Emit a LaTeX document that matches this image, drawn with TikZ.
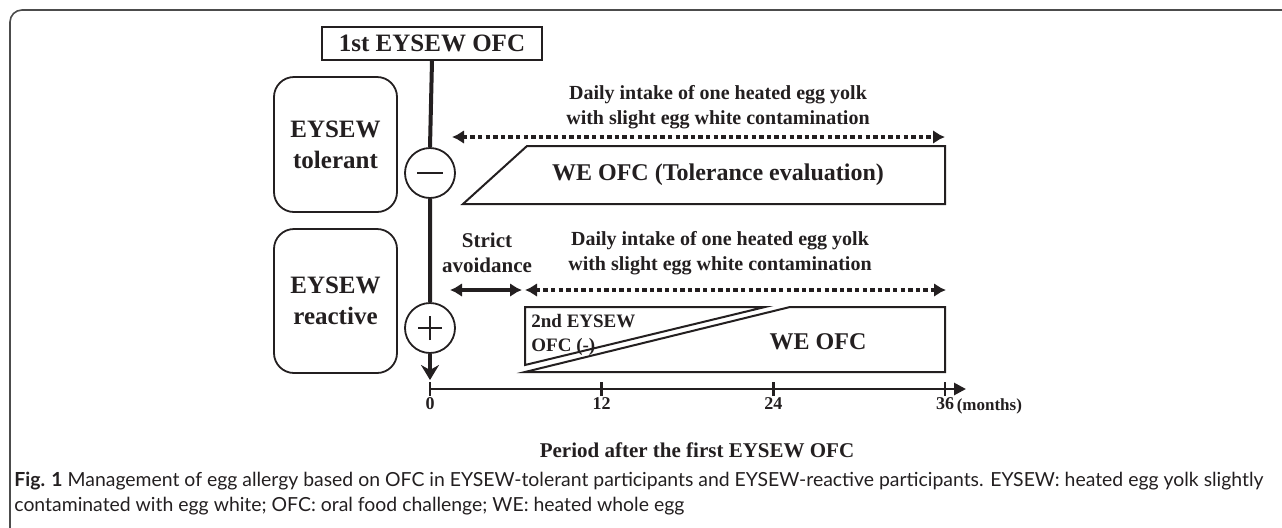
\documentclass[tikz,border=0pt]{standalone}
\usepackage{fontspec}
\setmainfont{Liberation Serif}
\newfontfamily\capfont{Lato}
\usetikzlibrary{arrows.meta,positioning}
\definecolor{ink}{HTML}{231F20}
\newcommand\fsz[2]{\fontsize{#1}{#2}\selectfont}

\begin{document}
\begin{tikzpicture}[x=0.5pt,y=-0.5pt, >={Latex[length=6pt,width=7pt]},
    lbl/.style={text=ink, inner sep=0pt, align=center},
    grpbox/.style={draw=ink, line width=0.9pt, rounded corners=10pt, minimum width=61.5pt},
    sign/.style={draw=ink, circle, line width=0.9pt, minimum size=25pt, inner sep=0pt},
    dotarr/.style={ink, line width=2pt, dash pattern=on 2.2pt off 1.6pt, <->}]
  \useasboundingbox (0,0) rectangle (1282,527);
  \clip (0,0) rectangle (1282,527);
  \draw[black!70, line width=0.8pt, rounded corners=6pt] (10,10) rectangle (1310,560);

  \node[lbl, draw=ink, line width=0.9pt, minimum width=110pt, minimum height=16.5pt,
        font=\bfseries\fsz{12.5}{14}] (ofc1) at (432,43.5) {1st EYSEW OFC};
  \node[grpbox, lbl, minimum height=67.5pt, font=\bfseries\fsz{12.5}{15.5}] (tol) at (335.5,144.5) {EYSEW\\tolerant};
  \node[grpbox, lbl, minimum height=72pt, font=\bfseries\fsz{12.5}{15.5}] (rea) at (335.5,301) {EYSEW\\reactive};

  \node[sign] (neg) at (430,173) {};
  \draw[ink, line width=1pt] ([xshift=-6.5pt]neg.center) -- ([xshift=6.5pt]neg.center);
  \node[sign] (pos) at (430,328) {};
  \draw[ink, line width=0.8pt] ([xshift=-6pt]pos.center) -- ([xshift=6pt]pos.center)
                               ([yshift=-6pt]pos.center) -- ([yshift=6pt]pos.center);
  \coordinate (tip) at (430,380);
  \draw[ink, line width=2pt] (ofc1.south) -- (neg.north) (neg.south) -- (pos.north);
  \draw[ink, line width=2pt, -{Stealth[length=7.5pt,width=9pt,inset=2.5pt]}] (pos.south) -- (tip);

  \coordinate (ax0) at (430,389);
  \coordinate (ax1) at (966,389);
  \draw[ink, line width=1.4pt, -{Stealth[length=6pt,width=6pt,inset=0pt]}] (ax0) -- (ax1);
  \foreach \m [count=\i from 0] in {0,12,24,36}{
    \coordinate (tk\m) at (430+171.67*\i,389);
    \draw[ink, line width=1.4pt] ([yshift=3.5pt]tk\m) -- ([yshift=-3.5pt]tk\m);
    \node[lbl, font=\bfseries\fsz{9}{10}, below=4pt of tk\m] (l\m) {\m};
  }
  \node[lbl, font=\bfseries\fsz{8.5}{10}, right=1pt of l36, yshift=-1.5pt] (mon) {(months)};
  \node[lbl, font=\bfseries\fsz{10.5}{12}] (per) at (697,450) {Period after the first EYSEW OFC};

  \node[lbl, font=\bfseries\fsz{10}{12.5}] (dly1) at (718,107)
    {Daily intake of one heated egg yolk\\with slight egg white contamination};
  \coordinate (a1l) at (452,137);
  \coordinate (a1r) at (945,137);
  \draw[dotarr] (a1l) -- (a1r);
  \draw[ink, line width=1pt] (527,146) -- (945,146) -- (945,204) -- (463,204) -- cycle;
  \node[lbl, font=\bfseries\fsz{12}{14}] (weT) at (718,175) {WE OFC (Tolerance evaluation)};

  \node[lbl, font=\bfseries\fsz{10.5}{12.5}] (avd) at (487,253) {Strict\\avoidance};
  \node[lbl, font=\bfseries\fsz{10}{12.5}] (dly2) at (720,253)
    {Daily intake of one heated egg yolk\\with slight egg white contamination};
  \coordinate (s1) at (450,290);
  \coordinate (s2) at (522,290);
  \coordinate (a2l) at (525,290);
  \coordinate (a2r) at (946,290);
  \draw[ink, line width=2pt, <->] (s1) -- (s2);
  \draw[dotarr] (a2l) -- (a2r);

  \draw[ink, line width=1pt] (525,307) -- (765,307) -- (525,365) -- cycle;
  \draw[ink, line width=1pt] (525,372) -- (790,307) -- (945,307) -- (945,372) -- cycle;
  \node[lbl, anchor=west, align=left, font=\bfseries\fsz{9.5}{12}] (ofc2) at (531,335) {2nd EYSEW\\OFC (-)};
  \node[lbl, font=\bfseries\fsz{12}{14}] (weB) at (818,342) {WE OFC};

  \node[anchor=north west, inner sep=0pt, align=left, text=ink, font=\capfont\fsz{9.7}{12.5}] (cap) at (14,472)
    {\textbf{Fig. 1} Management of egg allergy based on OFC in EYSEW-tolerant participants and EYSEW-reactive participants. EYSEW: heated egg yolk slightly\\
     contaminated with egg white; OFC: oral food challenge; WE: heated whole egg};
\end{tikzpicture}
\end{document}
